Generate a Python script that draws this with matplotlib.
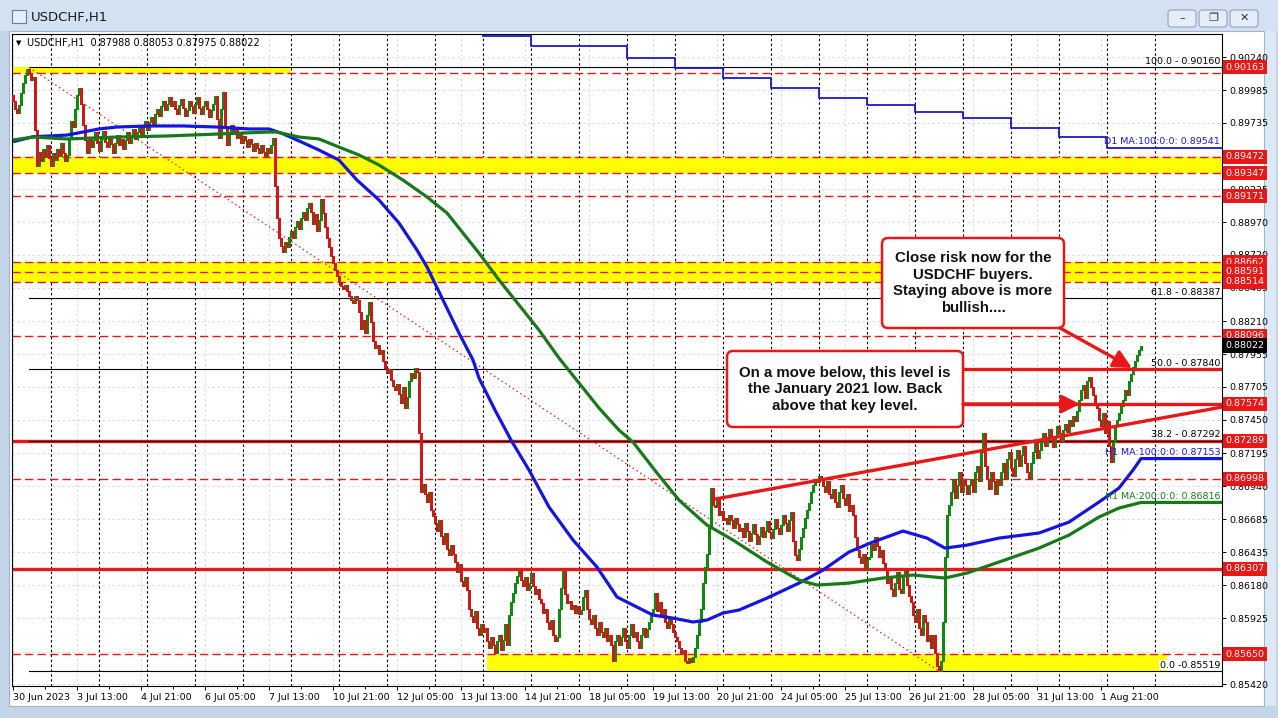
import numpy as np
import matplotlib.pyplot as plt
from matplotlib.patches import Rectangle, FancyBboxPatch, FancyArrowPatch
from matplotlib.transforms import IdentityTransform, blended_transform_factory

# ---- data (prices) ----
# hourly closes in pips (x 1e-4), bar 0 = 30 Jun 2023 05:00
first_open = 8995
close_pips = [
    8990, 8984, 8981, 8987, 8996, 9004, 9010, 9015, 9011, 9006, 9009, 8968, 8940,
    8951, 8944, 8953, 8947, 8956, 8946, 8940, 8950, 8945, 8953, 8948, 8958, 8950, 8944, 8949,
    8962, 8975, 8970, 8984, 8995, 9000, 8988, 8972, 8960, 8950,
    8962, 8955, 8960, 8966, 8958, 8952, 8961, 8967, 8959, 8955, 8963, 8957, 8950, 8958, 8964,
    8956, 8961, 8953, 8960, 8966, 8958, 8963, 8969, 8961, 8966, 8972, 8965, 8970, 8975, 8968,
    8974, 8978, 8972, 8980, 8984, 8979, 8986, 8990, 8983, 8988, 8993, 8986, 8990,
    8984, 8980, 8987, 8992, 8985, 8979, 8983, 8990, 8986, 8981, 8988, 8993, 8985, 8980, 8986,
    8990, 8984, 8978, 8983, 8988,
    8994, 8976, 8962, 8984, 8997, 8970, 8956, 8966,
    8972, 8965, 8969, 8962, 8966, 8958, 8963, 8960, 8955, 8961, 8957, 8952, 8958, 8954, 8950,
    8956, 8951, 8948, 8954, 8950, 8956,
    8962, 8925, 8900, 8885, 8879, 8874,
    8882, 8878, 8886, 8890, 8885, 8893, 8898, 8892, 8900, 8905, 8899, 8908, 8912,
    8905, 8896, 8903, 8890, 8899, 8915, 8904,
    8893, 8885, 8878, 8871, 8866, 8860, 8856, 8851, 8848, 8846,
    8849, 8844, 8840, 8837, 8835, 8840, 8837,
    8828, 8815, 8822, 8812, 8826, 8836, 8820, 8806,
    8800, 8803, 8796, 8799, 8790, 8785, 8781, 8784, 8776, 8771, 8768, 8773,
    8765, 8758, 8770, 8754, 8763, 8775, 8781, 8777, 8785, 8782,
    8735, 8690,
    8696, 8688, 8682, 8690, 8676, 8671, 8666, 8660, 8668, 8656, 8650, 8658, 8646, 8641, 8649, 8642,
    8636, 8628, 8634, 8621, 8617, 8624, 8614,
    8600, 8594, 8590, 8598, 8585, 8580, 8588, 8582,
    8585, 8575, 8570, 8578, 8572, 8566, 8575, 8580, 8568, 8576, 8588, 8572,
    8595, 8605, 8612, 8620, 8625, 8629,
    8622, 8617, 8624, 8614, 8620, 8627, 8617, 8611, 8615, 8607,
    8604, 8597, 8600, 8590, 8584, 8591, 8580, 8575, 8578,
    8600, 8616, 8629, 8611, 8604,
    8606, 8600, 8603, 8597, 8602, 8596,
    8599, 8609, 8614, 8600, 8592, 8588, 8595, 8585, 8580, 8590, 8582, 8578, 8585, 8575, 8580, 8572, 8560,
    8575, 8580, 8572, 8578, 8585, 8575, 8570, 8580, 8588, 8578, 8582, 8575, 8570, 8580, 8585, 8578, 8584,
    8590, 8595, 8600, 8612, 8598, 8605, 8595, 8600, 8590, 8585, 8592, 8588, 8582,
    8578, 8575, 8570, 8565, 8568, 8560, 8558, 8562, 8559, 8563,
    8570, 8580, 8590, 8600, 8620, 8632, 8642,
    8662, 8693, 8680,
    8678, 8685, 8672, 8675, 8668, 8670, 8665, 8672, 8668, 8662, 8670, 8665, 8660,
    8662, 8655, 8666, 8660, 8652, 8658, 8665, 8657, 8650, 8656, 8663, 8655, 8660, 8667, 8659,
    8654, 8661, 8669, 8662, 8657, 8664, 8672, 8666, 8660, 8668, 8674,
    8652, 8641, 8637, 8646,
    8655, 8662, 8670, 8676, 8681, 8690, 8695, 8700, 8697, 8702,
    8699, 8694, 8690, 8698, 8688, 8685, 8692, 8682, 8678, 8690, 8695, 8685, 8680, 8688, 8675, 8680, 8672,
    8655, 8645, 8640, 8635, 8642, 8630, 8638,
    8640, 8650, 8645, 8655, 8648, 8640, 8645, 8635,
    8630, 8620, 8625, 8615, 8610, 8620, 8628, 8615, 8612, 8625, 8630, 8618, 8610,
    8605, 8595, 8590, 8600, 8585, 8580, 8595, 8590, 8575, 8580, 8570, 8580,
    8566, 8556, 8552, 8560,
    8590, 8640, 8672,
    8680, 8690, 8700, 8685, 8695, 8705, 8690, 8700, 8695, 8688,
    8695, 8700, 8690, 8705, 8710, 8698, 8720, 8735, 8710, 8700, 8692, 8705, 8698, 8688, 8700, 8695,
    8705, 8712, 8700, 8715, 8720, 8708, 8702, 8715, 8722, 8710, 8718, 8725, 8712, 8705, 8700,
    8712, 8720, 8728, 8716, 8722,
    8728, 8735, 8725, 8730, 8738, 8732, 8724, 8733, 8740, 8735, 8728, 8737, 8742, 8736, 8745,
    8740, 8748, 8744,
    8752, 8760, 8768, 8772, 8762, 8775, 8778, 8770, 8764, 8758,
    8754, 8745, 8740, 8750, 8735, 8744, 8725, 8713, 8728, 8740,
    8745, 8750, 8756, 8760, 8768, 8764, 8775, 8780, 8786, 8790, 8795, 8799, 8802,
]

# H1 moving averages (bar index, price)
ma100_bars = [0, 10, 27, 43, 52, 68, 85, 102, 118, 128, 135, 143, 153, 163, 172, 183, 193, 202,
              207, 215, 223, 230, 233, 241, 249, 258, 268, 280, 292, 302, 310, 320, 330, 340, 347,
              355, 363, 377, 393, 405, 418, 430, 445, 457, 466, 477, 493, 513, 528, 543, 553, 560, 564]
ma100_vals = [0.89589, 0.89627, 0.89640, 0.89687, 0.89702, 0.89710, 0.89710, 0.89702, 0.89687,
              0.89687, 0.89650, 0.89595, 0.89525, 0.89448, 0.89294, 0.89141, 0.88964, 0.88756,
              0.88626, 0.88372, 0.88118, 0.87911, 0.87772, 0.87526, 0.87296, 0.87065, 0.86781,
              0.86527, 0.86319, 0.86089, 0.86027, 0.85950, 0.85927, 0.85897, 0.85912, 0.85966,
              0.85989, 0.86081, 0.86196, 0.86296, 0.86435, 0.86512, 0.86596, 0.86542, 0.86465,
              0.86488, 0.86542, 0.86581, 0.86665, 0.86819, 0.86927, 0.87065, 0.87153]
ma200_bars = [0, 10, 27, 52, 77, 102, 127, 132, 143, 153, 163, 173, 183, 195, 207, 217, 233, 243,
              253, 263, 273, 283, 293, 303, 310, 322, 333, 343, 347, 360, 377, 393, 402, 418, 435,
              450, 466, 477, 493, 513, 528, 543, 553, 564]
ma200_vals = [0.89602, 0.89625, 0.89610, 0.89625, 0.89633, 0.89648, 0.89663, 0.89663, 0.89625,
              0.89610, 0.89548, 0.89487, 0.89410, 0.89294, 0.89164, 0.89041, 0.88733, 0.88526,
              0.88334, 0.88141, 0.87926, 0.87734, 0.87542, 0.87372, 0.87280, 0.87042, 0.86834,
              0.86696, 0.86642, 0.86527, 0.86358, 0.86219, 0.86181, 0.86196, 0.86235, 0.86258,
              0.86235, 0.86273, 0.86358, 0.86465, 0.86565, 0.86704, 0.86773, 0.86816]
# D1 MA(100), one value per day
d1_bars = [235, 259, 283, 307, 331, 355, 379, 403, 427, 451, 475, 499, 523, 547]
d1_vals = [0.90402, 0.90325, 0.90325, 0.90232, 0.90155, 0.90079, 0.90002, 0.89925, 0.89871,
           0.89817, 0.89771, 0.89694, 0.89625, 0.89541]

# levels
red_tags = [0.90163, 0.89472, 0.89347, 0.89171, 0.88662, 0.88591, 0.88514, 0.88096,
            0.87574, 0.87289, 0.86998, 0.86307, 0.85650]
dashed_levels = [0.90120, 0.89472, 0.89347, 0.89171, 0.88662, 0.88591, 0.88514, 0.88096,
                 0.86998, 0.85650]
thick_levels = [0.87289, 0.86307]
last_price = 0.88022
yellow_zones = [(0.90117, 0.90163, -1, 139), (0.89347, 0.89472, -1, 605),
                (0.88514, 0.88662, -1, 605), (0.85519, 0.85650, 237, 577)]
fib_names = ['100.0 - 0.90160', '61.8 - 0.88387', '50.0 - 0.87840', '38.2 - 0.87292', '0.0 -0.85519']
fib_levels = [0.90160, 0.88387, 0.87840, 0.87292, 0.85519]
fib_base_bars = [8, 463]
fib_base_prices = [0.90160, 0.85519]
trend_bars = [351, 604.5]
trend_prices = [0.86842, 0.87549]
arrow_levels = [0.87840, 0.87574]

price_ticks = [0.90240, 0.89985, 0.89735, 0.89480, 0.89225, 0.88970, 0.88720, 0.88465, 0.88210,
               0.87955, 0.87705, 0.87450, 0.87195, 0.86940, 0.86685, 0.86435, 0.86180, 0.85925,
               0.85670, 0.85420]
hidden_ticks = [0.89480, 0.85670]  # covered by price tags on the original
date_labels = ['30 Jun 2023', '3 Jul 13:00', '4 Jul 21:00', '6 Jul 05:00', '7 Jul 13:00',
               '10 Jul 21:00', '12 Jul 05:00', '13 Jul 13:00', '14 Jul 21:00', '18 Jul 05:00',
               '19 Jul 13:00', '20 Jul 21:00', '24 Jul 05:00', '25 Jul 13:00', '26 Jul 21:00',
               '28 Jul 05:00', '31 Jul 13:00', '1 Aug 21:00']

# ---- colours ----
RED = '#e81818'
BAR_RED = '#d01818'
BAR_GREEN = '#0e8a0e'
BLUE = '#1515e0'
GREEN = '#17791a'

W, H = 1278, 718
PX = IdentityTransform()

fig = plt.figure(figsize=(W / 100, H / 100), dpi=100, facecolor='#c4d5ea')

def rect_px(x0, y0, x1, y1, **kw):
    r = Rectangle((x0, H - y1), x1 - x0, y1 - y0, transform=PX, zorder=-10, **kw)
    fig.add_artist(r)
    return r

def text_px(x, y, s, **kw):
    return fig.text(x, H - y, s, transform=PX, **kw)

# window chrome
rect_px(0, 0, W, 31, fc='#d3e1f3', ec='none')
rect_px(12, 10, 26, 23, fc='#e8eef8', ec='#5d7fae', lw=0.8)
text_px(31, 17, 'USDCHF,H1', fontsize=9.5, va='center', color='#1a1a1a')
for bx, sym in zip([1168, 1199, 1230], ['\u2013', '\u2750', '\u2715']):
    fig.add_artist(FancyBboxPatch((bx, H - 27), 28, 17, boxstyle='round,pad=0,rounding_size=3',
                                  transform=PX, fc='#e6edf7', ec='#8ea3c0', lw=0.8, zorder=-10))
    text_px(bx + 14, 18, sym, fontsize=8, ha='center', va='center', color='#333333')
rect_px(9, 31, 1264, 706, fc='white', ec='#9fb3cc', lw=0.8)
rect_px(1265, 31, 1276, 706, fc='#dde8f5', ec='none')

ax = fig.add_axes([12 / W, 1 - 686 / H, 1210 / W, 652 / H])
ax.set_facecolor('white')
ax.set_xlim(-0.5, 604.5)
ax.set_ylim(0.85405, 0.90417)
for s in ax.spines.values():
    s.set_color('black')
    s.set_linewidth(0.8)

# grid and day separators
for t in price_ticks:
    ax.axhline(t, color='#d6d6d6', lw=0.6, ls=(0, (3, 3)), zorder=0)
for i in range(len(date_labels)):
    ax.axvline(32 * i, color='#d6d6d6', lw=0.6, ls=(0, (3, 3)), zorder=0)
for k in range(24):
    ax.axvline(19 + 24 * k, color='black', lw=0.8, ls=(0, (2.2, 2.2)), zorder=1)

# yellow zones
for lo, hi, b0, b1 in yellow_zones:
    ax.fill_between([b0, b1], lo, hi, color='#ffff00', lw=0, zorder=1)

# horizontal levels
for lv in dashed_levels:
    ax.axhline(lv, color=RED, lw=1.0, ls=(0, (6, 3)), zorder=2)
for lv in thick_levels:
    ax.axhline(lv, color=RED, lw=2.4, zorder=2)
for lv in fib_levels:
    ax.plot([fib_base_bars[0], 604.5], [lv, lv], color='black', lw=0.8, zorder=2)
ax.plot(fib_base_bars, fib_base_prices, color=RED, lw=0.9, ls=(0, (1.2, 2.4)), zorder=2)

# price bars
c = np.array(close_pips) / 10000
o = np.concatenate([[first_open / 10000], c[:-1]])
x = np.arange(len(c))
up = c >= o
ax.vlines(x[up], o[up], c[up], color=BAR_GREEN, lw=0.75, zorder=3, antialiased=False)
ax.vlines(x[~up], c[~up], o[~up], color=BAR_RED, lw=0.75, zorder=3, antialiased=False)

# moving averages
xr = ax.get_xlim()[1]
ax.plot(ma100_bars + [xr], ma100_vals + [ma100_vals[-1]], color=BLUE, lw=2.3, zorder=4,
        solid_capstyle='butt')
ax.plot(ma200_bars + [xr], ma200_vals + [ma200_vals[-1]], color=GREEN, lw=2.3, zorder=4,
        solid_capstyle='butt')
ax.step(d1_bars + [xr], d1_vals + [d1_vals[-1]], where='post', color='#1a1acc', lw=1.3, zorder=4)

# trend line and arrow levels
ax.plot(trend_bars, trend_prices, color=RED, lw=2.4, zorder=4)
ax.plot([475, xr], [arrow_levels[0]] * 2, color=RED, lw=2.4, zorder=4)
ax.plot([475, xr], [arrow_levels[1]] * 2, color=RED, lw=2.4, zorder=4)

# axis ticks
ax.yaxis.tick_right()
ax.set_yticks(price_ticks)
ax.set_yticklabels(['' if t in hidden_ticks else f'{t:.5f}' for t in price_ticks])
ax.set_xticks([32 * i for i in range(len(date_labels))])
ax.set_xticklabels(date_labels, ha='left')
ax.set_xticks([16 + 32 * i for i in range(len(date_labels))], minor=True)
ax.tick_params(axis='both', labelsize=6.8, colors='black', length=3, width=0.7, pad=2)
ax.tick_params(axis='x', which='minor', length=2, width=0.7)

# right-side price tags
tr = blended_transform_factory(ax.transAxes, ax.transData)
for lv in red_tags:
    ax.text(1.003, lv, f'{lv:.5f}', transform=tr, ha='left', va='center', fontsize=6.8,
            color='white', clip_on=False, zorder=6,
            bbox=dict(boxstyle='square,pad=0.28', fc=RED, ec='none'))
ax.text(1.003, last_price, f'{last_price:.5f}', transform=tr, ha='left', va='center',
        fontsize=6.8, color='white', clip_on=False, zorder=6,
        bbox=dict(boxstyle='square,pad=0.28', fc='black', ec='none'))

# line labels
for name, lv in zip(fib_names, fib_levels):
    bg = dict(fc='white', ec='none', pad=0.5) if lv < 0.86 else None
    ax.text(0.9985, lv + 0.00012, name, transform=tr, ha='right', va='bottom', fontsize=6.8,
            zorder=6, bbox=bg)
ax.text(0.9985, d1_vals[-1] + 0.00012, f'D1 MA:100:0:0: {d1_vals[-1]:.5f}', transform=tr,
        ha='right', va='bottom', fontsize=6.8, color='#1a1acc', zorder=6)
ax.text(0.9985, ma100_vals[-1] + 0.00012, f'H1 MA:100:0:0: {ma100_vals[-1]:.5f}', transform=tr,
        ha='right', va='bottom', fontsize=6.8, color=BLUE, zorder=6)
ax.text(0.9985, ma200_vals[-1] + 0.00012, f'H1 MA:200:0:0: {ma200_vals[-1]:.5f}', transform=tr,
        ha='right', va='bottom', fontsize=6.8, color=GREEN, zorder=6)

# header text
text_px(16, 43, '\u25bc', fontsize=5, va='center')
text_px(27, 43, 'USDCHF,H1  0.87988 0.88053 0.87975 0.88022', fontsize=7, va='center')

# annotation boxes
def note(x0, y0, x1, y1, txt):
    fig.add_artist(FancyBboxPatch((x0, H - y1), x1 - x0, y1 - y0,
                                  boxstyle='round,pad=0,rounding_size=6', transform=PX,
                                  fc='white', ec=RED, lw=1.8, zorder=7))
    t = text_px((x0 + x1) / 2, (y0 + y1) / 2, txt, ha='center', va='center', fontsize=10.8,
                fontweight='bold', family='Liberation Sans', linespacing=1.25, color='#111111')
    t.set_zorder(8)

def arrow(x0, y0, x1, y1):
    a = FancyArrowPatch((x0, H - y0), (x1, H - y1), transform=PX,
                        arrowstyle='-|>,head_length=11,head_width=5.5', mutation_scale=1,
                        color=RED, lw=2.4, shrinkA=0, shrinkB=0, zorder=7)
    fig.add_artist(a)

note(882, 238, 1064, 328, 'Close risk now for the\nUSDCHF buyers.\nStaying above is more\nbullish....')
note(727, 351, 963, 427, 'On a move below, this level is\nthe January 2021 low. Back\nabove that key level.')
arrow(1060, 328, 1132, 368)
arrow(963, 404, 1080, 404)

fig.savefig('out.png', dpi=100, facecolor=fig.get_facecolor())
